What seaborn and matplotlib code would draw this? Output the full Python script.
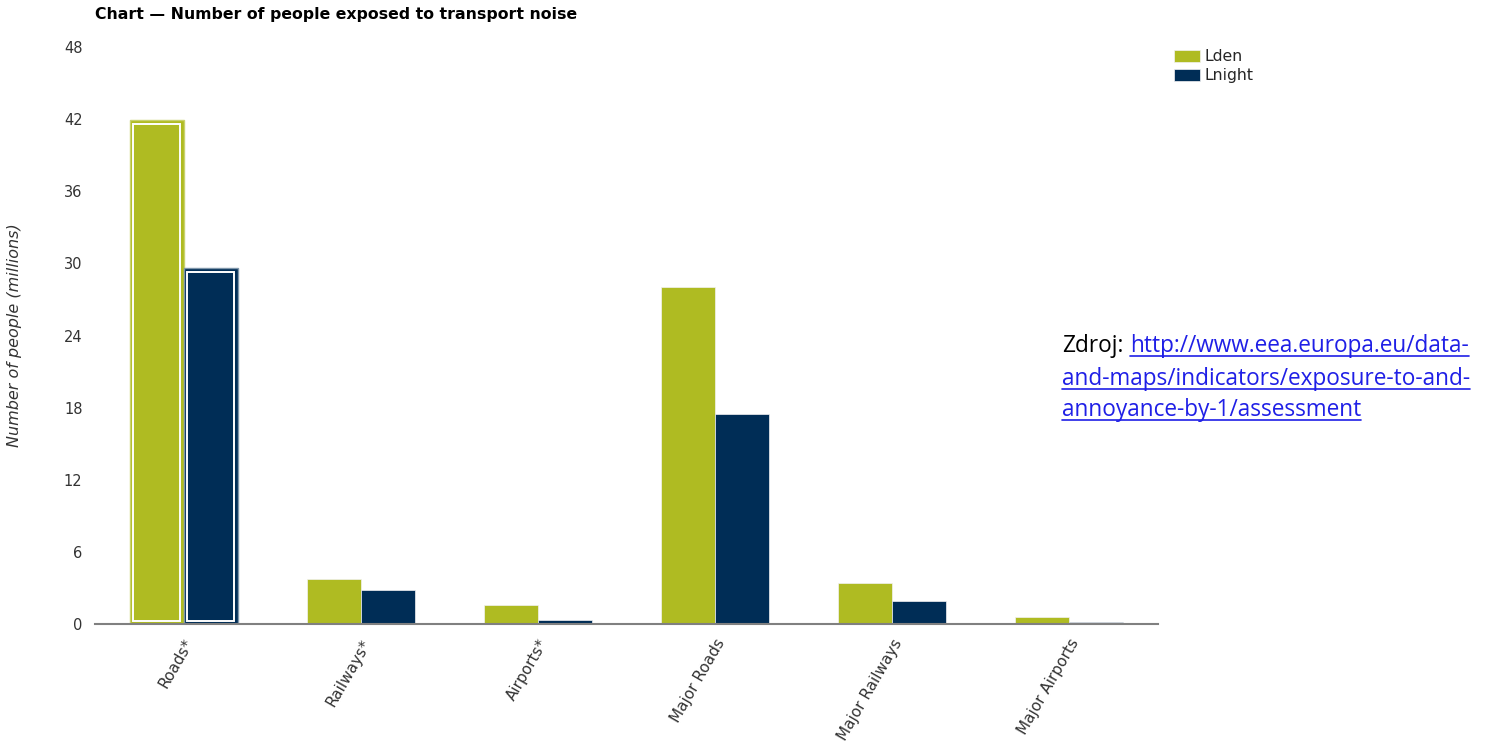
import numpy as np
import pandas as pd
import matplotlib
matplotlib.use("Agg")
import matplotlib.pyplot as plt
import matplotlib.transforms as mtransforms
from matplotlib.patches import Rectangle
from matplotlib.lines import Line2D
import seaborn as sns

categories = ["Roads*", "Railways*", "Airports*", "Major Roads", "Major Railways", "Major Airports"]
lden = [41.9, 3.75, 1.6, 28.0, 3.4, 0.56]
lnight = [29.6, 2.8, 0.35, 17.5, 1.9, 0.18]
series_names = ["Lden", "Lnight"]
colors = ["#AFBB22", "#002D56"]
y_ticks = [0, 6, 12, 18, 24, 30, 36, 42, 48]

title = "Chart \u2014 Number of people exposed to transport noise"
ylabel = "Number of people (millions)"
source_label = "Zdroj:"
source_lines = ["http://www.eea.europa.eu/data-",
                "and-maps/indicators/exposure-to-and-",
                "annoyance-by-1/assessment"]

df = pd.DataFrame({
    "category": categories * 2,
    "value": lden + lnight,
    "series": [series_names[0]] * len(categories) + [series_names[1]] * len(categories),
})

sns.set_style("white")
plt.rcParams["font.family"] = ["DejaVu Sans"]

W, H = 1499, 754
fig = plt.figure(figsize=(W / 100, H / 100), dpi=100)
ax = fig.add_axes([95 / W, 1 - 624 / H, (1158 - 95) / W, (624 - 47) / H])

sns.barplot(data=df, x="category", y="value", hue="series", order=categories,
            hue_order=series_names, palette=colors, saturation=1, width=0.61,
            edgecolor="#F2F2F2", linewidth=0.5, ax=ax, legend=True)

ax.set_xlim(-0.5, len(categories) - 0.5)
ax.set_ylim(0, 48)
ax.set_yticks(y_ticks)
ax.set_yticklabels([str(t) for t in y_ticks])

for s in ["top", "right", "left"]:
    ax.spines[s].set_visible(False)
ax.spines["bottom"].set_color("#808080")
ax.spines["bottom"].set_linewidth(1.5)

ax.tick_params(axis="y", length=0, pad=9, labelsize=10.5, labelcolor="#333333")
ax.tick_params(axis="x", length=3, color="#AAAAAA", pad=6, labelsize=11, labelcolor="#333333")
plt.setp(ax.get_xticklabels(), rotation=60, ha="right", rotation_mode="anchor")

ax.set_xlabel("")
ax.set_ylabel(ylabel, fontsize=11.5, style="italic", color="#333333")
ax.yaxis.set_label_coords(-0.0687, 0.5)

# highlighted first category: inset white border
light = ["#C9D26E", "#7F96AA"]
for cont, lc in zip(ax.containers, light):
    p = cont.patches[0]
    p.set_edgecolor(lc)
    p.set_linewidth(1.0)
    bb = p.get_window_extent()
    r = Rectangle((bb.x0 + 3.5, bb.y0 + 3.5), bb.width - 7, bb.height - 7,
                  transform=mtransforms.IdentityTransform(), fill=False,
                  ec="white", lw=1.4, zorder=5)
    fig.add_artist(r)

# legend
leg = ax.get_legend()
handles = leg.legend_handles
leg.remove()
fig.legend(handles, series_names, loc="upper left",
           bbox_to_anchor=(1168 / W, 1 - 43 / H), frameon=False,
           fontsize=11.3, handlelength=1.65, handleheight=0.8,
           handletextpad=0.3, labelspacing=0.25, borderaxespad=0)

fig.text(95 / W, 1 - 14 / H, title, fontsize=11.3, fontweight="bold",
         color="#000000", va="center", ha="left")

# source text
fs = 16.3
fam = ["Open Sans", "DejaVu Sans"]
t0 = fig.text(1062 / W, 1 - 352 / H, source_label, fontsize=fs, family=fam,
              color="#000000", va="baseline", ha="left")
line_y = [352, 385, 416]
line_x = [1130, 1062, 1062]
texts = []
for s, xx, yy in zip(source_lines, line_x, line_y):
    t = fig.text(xx / W, 1 - yy / H, s, fontsize=fs, family=fam,
                 color="#1F1FE6", va="baseline", ha="left")
    texts.append((t, yy))

fig.canvas.draw()
r = fig.canvas.get_renderer()
for t, yy in texts:
    bb = t.get_window_extent(r)
    ypix = H - yy - 4
    fig.add_artist(Line2D([bb.x0, bb.x1], [ypix, ypix], transform=mtransforms.IdentityTransform(),
                          color="#1F1FE6", lw=1.2))

fig.savefig("out.png", dpi=100)
